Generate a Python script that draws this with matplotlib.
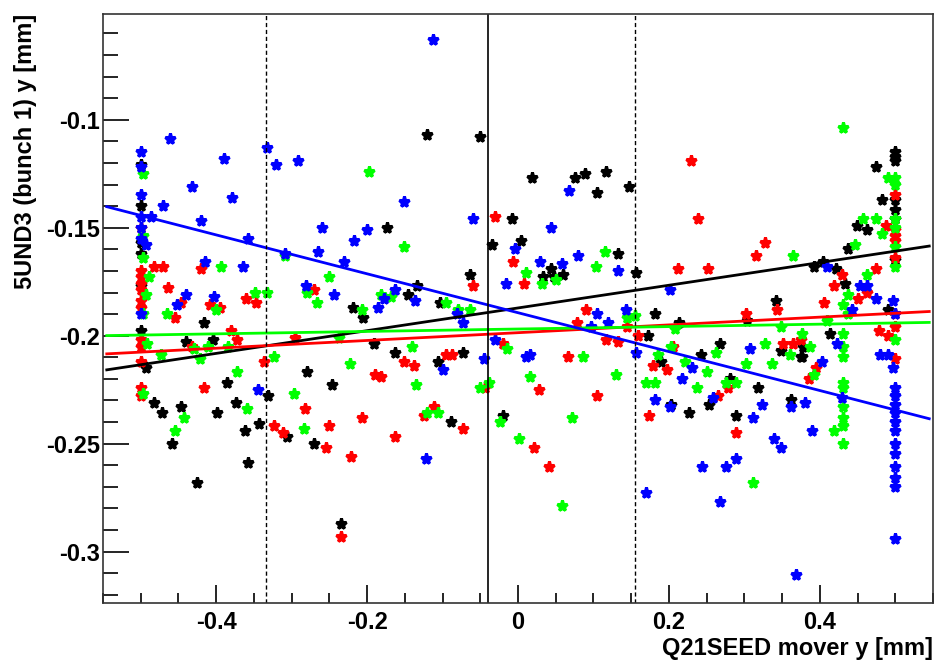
import numpy as np
import matplotlib
matplotlib.use("Agg")
import matplotlib.pyplot as plt
from matplotlib.ticker import MultipleLocator

# black series
bk_x = [-0.5, -0.5, -0.5, -0.5, -0.5, -0.5, -0.493, -0.483, -0.472, -0.459, -0.447, -0.426, -0.44, -0.404,
        -0.416, -0.399, -0.386, -0.374, -0.362, -0.358, -0.343, -0.331, -0.306, -0.28, -0.271, -0.246, -0.234,
        -0.191, -0.163, -0.106, -0.073, -0.089, -0.02, -0.12, -0.051, -0.174, -0.063, -0.134, -0.146, -0.219,
        -0.205, -0.104, -0.035, -0.008, 0.004, 0.018, 0.075, 0.089, 0.117, 0.105, 0.147, 0.133, 0.044, 0.033,
        0.048, 0.06, 0.156, 0.182, 0.172, 0.214, 0.304, 0.342, 0.392, 0.404, 0.422, 0.434, 0.437, 0.449, 0.462,
        0.474, 0.482, 0.491, 0.5, 0.5, 0.5, 0.5, 0.5, 0.5, 0.5, 0.414, 0.378, 0.377, 0.189, 0.203, 0.226, 0.253,
        0.242, 0.268, 0.281, 0.318, 0.289, 0.362, 0.349, 0.375]
bk_y = [-0.121, -0.140, -0.157, -0.162, -0.177, -0.198, -0.215, -0.231, -0.236, -0.250, -0.233, -0.268, -0.203, -0.202,
        -0.194, -0.236, -0.222, -0.231, -0.244, -0.259, -0.241, -0.228, -0.247, -0.217, -0.250, -0.223, -0.287,
        -0.204, -0.208, -0.212, -0.208, -0.240, -0.237, -0.107, -0.108, -0.150, -0.172, -0.177, -0.181, -0.187,
        -0.192, -0.185, -0.158, -0.146, -0.156, -0.127, -0.127, -0.125, -0.124, -0.134, -0.131, -0.162, -0.169, -0.173,
        -0.173, -0.172, -0.171, -0.190, -0.200, -0.194, -0.193, -0.184, -0.168, -0.166, -0.169, -0.176, -0.160, -0.149, -0.151,
        -0.122, -0.137, -0.188, -0.115, -0.117, -0.119, -0.137, -0.142, -0.146, -0.165, -0.199, -0.205, -0.210, -0.212, -0.232, -0.236, -0.232,
        -0.209, -0.204, -0.220, -0.224, -0.237, -0.230, -0.207, -0.210]

# red series
rd_x = [-0.5, -0.5, -0.5, -0.5, -0.5, -0.5, -0.5, -0.5, -0.5, -0.5, -0.5, -0.5,
        -0.483, -0.47, -0.464, -0.446, -0.454, -0.42, -0.408, -0.395, -0.361, -0.347, -0.27, -0.416, -0.336,
        -0.324, -0.312, -0.282, -0.296, -0.38, -0.372, -0.432, -0.25, -0.255, -0.221, -0.207, -0.19, -0.182,
        -0.163, -0.151, -0.138, -0.124, -0.111, -0.096, -0.088, -0.073, -0.235, -0.044, -0.02, 0.021, 0.041,
        0.028, 0.066, 0.105, 0.117, 0.132, 0.159, -0.03, -0.007, 0.008, -0.059, 0.09, 0.078, 0.145, 0.212,
        0.205, 0.229, 0.239, 0.252, 0.316, 0.328, 0.302, 0.343, 0.405, 0.419, 0.429, 0.451, 0.463, 0.474,
        0.488, 0.5, 0.5, 0.5, 0.5, 0.5, 0.5, 0.5, 0.478, 0.491, 0.5, 0.375, 0.395, 0.385, 0.179, 0.198, 0.173,
        0.265, 0.278, 0.289, 0.351, 0.364]
rd_y = [-0.150, -0.170, -0.173, -0.176, -0.179, -0.184, -0.187, -0.202, -0.205, -0.212, -0.224, -0.228,
        -0.168, -0.168, -0.178, -0.185, -0.192, -0.169, -0.186, -0.187, -0.183, -0.185, -0.179, -0.224, -0.212,
        -0.242, -0.245, -0.234, -0.201, -0.198, -0.202, -0.205, -0.242, -0.252, -0.256, -0.238, -0.218, -0.219,
        -0.247, -0.212, -0.214, -0.237, -0.233, -0.209, -0.209, -0.243, -0.293, -0.224, -0.204, -0.252, -0.261,
        -0.225, -0.210, -0.228, -0.202, -0.203, -0.200, -0.145, -0.166, -0.176, -0.177, -0.188, -0.194, -0.196, -0.169,
        -0.205, -0.119, -0.146, -0.169, -0.163, -0.157, -0.190, -0.188, -0.185, -0.177, -0.172, -0.183, -0.180, -0.169,
        -0.149, -0.135, -0.151, -0.154, -0.156, -0.164, -0.190, -0.196, -0.198, -0.200, -0.211, -0.202, -0.215, -0.220, -0.214, -0.216, -0.237,
        -0.228, -0.224, -0.245, -0.204, -0.204]

# green series
gr_x = [-0.497, -0.497, -0.497, -0.489, -0.493, -0.497, -0.492, -0.497,
        -0.465, -0.393, -0.4, -0.349, -0.333, -0.309, -0.28, -0.267, -0.473, -0.43, -0.422, -0.411, -0.384,
        -0.372, -0.359, -0.455, -0.443, -0.323, -0.297, -0.284, -0.198, -0.151, -0.25, -0.182, -0.168, -0.207,
        -0.095, -0.08, -0.064, 0.01, 0.032, 0.051, 0.103, 0.115, 0.145, 0.155, -0.237, -0.222, -0.14, -0.135,
        -0.12, -0.106, -0.051, -0.039, -0.024, -0.015, 0.001, 0.016, 0.058, 0.072, 0.086, 0.13, 0.208, 0.348,
        0.364, 0.409, 0.431, 0.457, 0.474, 0.483, 0.447, 0.463, 0.437, 0.431, 0.438, 0.491, 0.5, 0.5, 0.5, 0.5,
        0.5, 0.5, 0.5, 0.377, 0.387, 0.392, 0.431, 0.431, 0.431, 0.431, 0.431, 0.431, 0.431, 0.431, 0.431,
        0.419, 0.17, 0.181, 0.185, 0.203, 0.221, 0.237, 0.25, 0.263, 0.275, 0.289, 0.302, 0.327, 0.336, 0.36,
        0.311]
gr_y = [-0.125, -0.154, -0.164, -0.173, -0.181, -0.190, -0.204, -0.227,
        -0.190, -0.168, -0.188, -0.180, -0.180, -0.163, -0.180, -0.185, -0.209, -0.206, -0.211, -0.205, -0.205,
        -0.217, -0.234, -0.244, -0.238, -0.210, -0.227, -0.243, -0.124, -0.159, -0.173, -0.181, -0.182, -0.188,
        -0.185, -0.188, -0.188, -0.171, -0.176, -0.174, -0.168, -0.161, -0.192, -0.191, -0.201, -0.213, -0.205, -0.223,
        -0.236, -0.236, -0.224, -0.222, -0.240, -0.206, -0.248, -0.219, -0.279, -0.238, -0.210, -0.218, -0.197, -0.196,
        -0.163, -0.193, -0.104, -0.146, -0.146, -0.153, -0.158, -0.172, -0.181, -0.186, -0.190, -0.127, -0.127, -0.130, -0.146, -0.150,
        -0.159, -0.168, -0.202, -0.199, -0.205, -0.218, -0.199, -0.205, -0.210, -0.222, -0.224, -0.233, -0.238, -0.242, -0.250,
        -0.244, -0.222, -0.222, -0.209, -0.205, -0.212, -0.224, -0.217, -0.208, -0.222, -0.222, -0.213, -0.204, -0.213, -0.209,
        -0.268]

# blue series
bl_x = [-0.5, -0.5, -0.5, -0.5, -0.5, -0.5, -0.493, -0.5,
        -0.461, -0.47, -0.486, -0.432, -0.42, -0.39, -0.379, -0.358, -0.415, -0.364, -0.44, -0.452, -0.403,
        -0.333, -0.321, -0.291, -0.309, -0.281, -0.26, -0.265, -0.345, -0.112, -0.244, -0.23, -0.218, -0.20,
        -0.151, -0.186, -0.178, -0.163, -0.136, -0.081, -0.073, -0.059, -0.016, -0.004, 0.029, 0.044, 0.058,
        0.068, 0.08, 0.105, 0.132, 0.143, 0.097, 0.119, 0.201, -0.099, -0.122, -0.045, -0.031, 0.01, 0.016,
        0.157, 0.409, 0.453, 0.463, 0.474, 0.442, 0.497, 0.499, 0.23, 0.218, 0.182, 0.201, 0.259, 0.308, 0.324,
        0.312, 0.362, 0.38, 0.389, 0.339, 0.349, 0.289, 0.276, 0.244, 0.268, 0.169, 0.369, 0.403, 0.423, 0.48,
        0.49, 0.497, 0.43, 0.5, 0.5, 0.5, 0.5, 0.5, 0.5, 0.5, 0.5, 0.5, 0.5, 0.5, 0.5]
bl_y = [-0.115, -0.122, -0.135, -0.145, -0.150, -0.155, -0.158, -0.190,
        -0.109, -0.140, -0.145, -0.131, -0.147, -0.118, -0.136, -0.155, -0.166, -0.168, -0.181, -0.186, -0.182,
        -0.113, -0.121, -0.119, -0.162, -0.177, -0.150, -0.161, -0.225, -0.063, -0.181, -0.166, -0.156, -0.151,
        -0.138, -0.187, -0.183, -0.179, -0.184, -0.190, -0.194, -0.146, -0.176, -0.160, -0.166, -0.150, -0.167,
        -0.133, -0.163, -0.190, -0.170, -0.188, -0.196, -0.194, -0.179, -0.216, -0.257, -0.211, -0.202, -0.210, -0.209,
        -0.208, -0.168, -0.177, -0.177, -0.183, -0.188, -0.184, -0.190, -0.215, -0.220, -0.230, -0.233, -0.229, -0.206, -0.232,
        -0.238, -0.233, -0.231, -0.244, -0.248, -0.252, -0.257, -0.261, -0.261, -0.277, -0.273, -0.311, -0.212, -0.204, -0.209,
        -0.209, -0.215, -0.229, -0.224, -0.228, -0.232, -0.236, -0.240, -0.244, -0.250, -0.255, -0.261, -0.266, -0.270, -0.294]

# straight-line fits (intercept at x=0, slope)
fit_colors = ['black', '#ff0000', '#00ff00', '#0000ff']
fit_intercept = [-0.18715, -0.1986, -0.1969, -0.18935]
fit_slope = [0.0526, 0.018, 0.0056, -0.0901]
fit_range = [-0.545, 0.545]

# cut lines
cut_dashed = [-0.3346, 0.155]
cut_solid = -0.0397

fig = plt.figure(figsize=(9.38, 6.6), dpi=100)
ax = fig.add_axes([103/938, 57/660, 830/938, 589/660])

series = [(bk_x, bk_y, 'black'), (rd_x, rd_y, '#ff0000'),
          (gr_x, gr_y, '#00ff00'), (bl_x, bl_y, '#0000ff')]
for xs, ys, c in series:
    ax.plot(xs, ys, linestyle='none', marker='*', ms=8, color=c, mec=c, mew=2.2)

xf = np.array(fit_range)
for c, b, m in zip(fit_colors, fit_intercept, fit_slope):
    ax.plot(xf, b + m * xf, color=c, lw=2)

for xv in cut_dashed:
    ax.axvline(xv, color='black', lw=1, ls=(0, (3, 2)))
ax.axvline(cut_solid, color='black', lw=1.2)

ax.set_xlim(-0.55, 0.55)
ax.set_ylim(-0.3238, -0.051)
ax.xaxis.set_minor_locator(MultipleLocator(0.05))
ax.yaxis.set_minor_locator(MultipleLocator(0.01))
ax.set_xticks([-0.4, -0.2, 0, 0.2, 0.4])
ax.set_xticklabels(['-0.4', '-0.2', '0', '0.2', '0.4'])
ax.set_yticks([-0.3, -0.25, -0.2, -0.15, -0.1])
ax.set_yticklabels(['-0.3', '-0.25', '-0.2', '-0.15', '-0.1'])

ax.tick_params(axis='both', which='both', direction='in', top=False, right=False, width=1.2)
ax.tick_params(axis='y', which='major', length=18.5, pad=2)
ax.tick_params(axis='y', which='minor', length=10.5)
ax.tick_params(axis='x', which='major', length=13, pad=6)
ax.tick_params(axis='x', which='minor', length=7)
for lab in ax.get_xticklabels() + ax.get_yticklabels():
    lab.set_fontfamily('Liberation Sans')
    lab.set_fontweight('bold')
    lab.set_fontsize(17)

for s in ax.spines.values():
    s.set_linewidth(1.2)
    s.set_color('#333333')

ax.set_xlabel('Q21SEED mover y [mm]', fontsize=17, fontweight='bold',
              family='Liberation Sans', loc='right')
ax.xaxis.set_label_coords(1.0, -0.058)
ax.set_ylabel('5UND3 (bunch 1) y [mm]', fontsize=17, fontweight='bold',
              family='Liberation Sans', loc='top')
ax.yaxis.set_label_coords(-0.079, 1.0)

fig.savefig('out.png', dpi=100)
